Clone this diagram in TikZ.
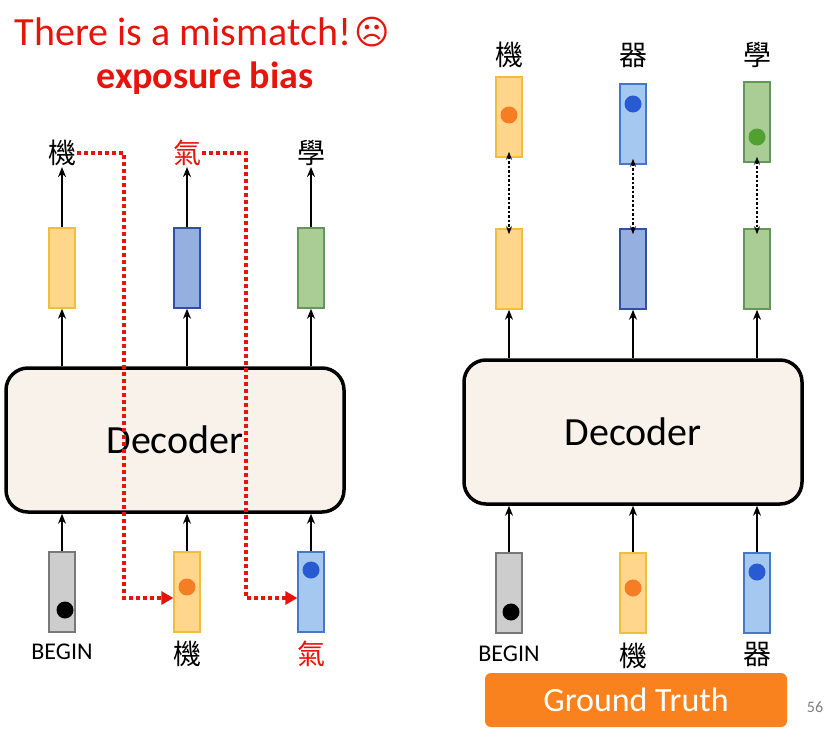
\documentclass[tikz,border=0pt]{standalone}
\usepackage{fontspec}
\setmainfont{Carlito}
\newfontfamily\cjk{Noto Sans CJK TC}
\newfontfamily\djv{DejaVu Sans}
\usetikzlibrary{arrows.meta}
\definecolor{myred}{RGB}{230,20,10}
\definecolor{yfill}{RGB}{255,214,140}\definecolor{ydraw}{RGB}{240,190,60}
\definecolor{bfill}{RGB}{150,175,225}\definecolor{bdraw}{RGB}{50,80,160}
\definecolor{lbfill}{RGB}{165,200,240}\definecolor{lbdraw}{RGB}{70,120,200}
\definecolor{gfill}{RGB}{170,205,150}\definecolor{gdraw}{RGB}{100,150,90}
\definecolor{grfill}{RGB}{205,205,205}\definecolor{grdraw}{RGB}{120,120,120}
\definecolor{decfill}{RGB}{248,242,234}
\definecolor{orng}{RGB}{250,130,30}
\definecolor{dotor}{RGB}{245,125,35}\definecolor{dotbl}{RGB}{40,90,210}\definecolor{dotgr}{RGB}{80,160,50}
\begin{document}
\begin{tikzpicture}[x=1pt,y=-1pt,
  vec/.style={draw,line width=1.5pt,minimum width=26pt,minimum height=80pt,inner sep=0pt},
  dec/.style={draw,line width=3.5pt,rounded corners=22pt,fill=decfill,minimum width=338pt,minimum height=144pt,font=\fontsize{40}{40}\selectfont},
  lab/.style={font=\cjk\fontsize{28}{28}\selectfont,inner sep=1pt},
  blab/.style={font=\fontsize{24}{24}\selectfont,inner sep=1pt},
  arr/.style={-{Stealth[length=10pt,width=8pt]},line width=2.2pt},
  red dot/.style={myred,line width=3.5pt,dash pattern=on 3.5pt off 3.5pt},
  dot/.style={circle,inner sep=0pt,minimum size=17pt}]
\useasboundingbox (0,0) rectangle (835,736);
\fill[white] (0,0) rectangle (835,736);
\node[text=myred,font=\fontsize{40}{40}\selectfont] (t1) at (183,32) {There is a mismatch!};
\node[text=myred,font=\djv\fontsize{34}{34}\selectfont] (t1b) at (372,32) {☹};
\node[text=myred,font=\bfseries\fontsize{38}{38}\selectfont] (t2) at (205,78) {exposure bias};
% left
\node[dec] (D1) at (175,440) {Decoder};
\node[vec,fill=yfill,draw=ydraw] (o1) at (62,268) {};
\node[vec,fill=bfill,draw=bdraw] (o2) at (187,268) {};
\node[vec,fill=gfill,draw=gdraw] (o3) at (311,268) {};
\node[lab] (l1) at (62,153) {機};
\node[lab,text=myred] (l2) at (187,153) {氣};
\node[lab] (l3) at (311,153) {學};
\node[vec,fill=grfill,draw=grdraw] (i1) at (62,592) {};
\node[vec,fill=yfill,draw=ydraw] (i2) at (187,592) {};
\node[vec,fill=lbfill,draw=lbdraw] (i3) at (311,592) {};
\node[dot,fill=black] (d1) at (65,610) {};
\node[dot,fill=dotor] (d2) at (187,587) {};
\node[dot,fill=dotbl] (d3) at (311,570) {};
\node[blab] (b1) at (62,652) {BEGIN};
\node[lab] (b2) at (187,654) {機};
\node[lab,text=myred] (b3) at (311,654) {氣};
\foreach \k in {1,2,3}{
  \draw[arr] (i\k.north) -- (i\k.north |- D1.south);
  \draw[arr] (o\k.south |- D1.north) -- (o\k.south);
  \draw[arr] (o\k.north) -- (l\k.south);}
\coordinate (c1) at (124,153); \coordinate (c2) at (124,598);
\coordinate (c3) at (246,153); \coordinate (c4) at (246,598);
\draw[red dot] (l1.east) -- (c1) -- (c2) -- ([xshift=-10pt]i2.west |- c2);
\draw[red dot] (l2.east) -- (c3) -- (c4) -- ([xshift=-10pt]i3.west |- c4);
\fill[myred] (i2.west |- c2) -- ++(-12,-7) -- ++(0,14) -- cycle;
\fill[myred] (i3.west |- c4) -- ++(-12,-7) -- ++(0,14) -- cycle;
% right
\node[dec] (D2) at (633,432) {Decoder};
\node[vec,fill=yfill,draw=ydraw] (p1) at (509,117) {};
\node[vec,fill=lbfill,draw=lbdraw] (p2) at (633,124) {};
\node[vec,fill=gfill,draw=gdraw] (p3) at (757,122) {};
\node[dot,fill=dotor] (e1) at (509,115) {};
\node[dot,fill=dotbl] (e2) at (633,104) {};
\node[dot,fill=dotgr] (e3) at (757,137) {};
\node[lab] (m1) at (509,55) {機};
\node[lab] (m2) at (633,55) {器};
\node[lab] (m3) at (757,55) {學};
\node[vec,fill=yfill,draw=ydraw] (q1) at (509,269) {};
\node[vec,fill=bfill,draw=bdraw] (q2) at (633,269) {};
\node[vec,fill=gfill,draw=gdraw] (q3) at (757,269) {};
\node[vec,fill=grfill,draw=grdraw] (j1) at (509,593) {};
\node[vec,fill=yfill,draw=ydraw] (j2) at (633,593) {};
\node[vec,fill=lbfill,draw=lbdraw] (j3) at (757,593) {};
\node[dot,fill=black] (f1) at (511,612) {};
\node[dot,fill=dotor] (f2) at (633,588) {};
\node[dot,fill=dotbl] (f3) at (757,572) {};
\node[blab] (g1) at (509,654) {BEGIN};
\node[lab] (g2) at (633,656) {機};
\node[lab] (g3) at (757,654) {器};
\foreach \k in {1,2,3}{
  \draw[arr] (j\k.north) -- (j\k.north |- D2.south);
  \draw[arr] (q\k.south |- D2.north) -- (q\k.south);
  \draw[{Stealth[length=8pt,width=6pt]}-{Stealth[length=8pt,width=6pt]},line width=1.6pt,dash pattern=on 2.5pt off 2pt] ([yshift=6pt]p\k.south) -- ([yshift=-6pt]q\k.north);}
\node[fill=orng,rounded corners=6pt,minimum width=302pt,minimum height=54pt,text=white,font=\fontsize{34}{34}\selectfont] (gt) at (636,700) {Ground Truth};
\node[text=gray,font=\fontsize{16}{16}\selectfont] (pg) at (815,707) {56};
\end{tikzpicture}
\end{document}
